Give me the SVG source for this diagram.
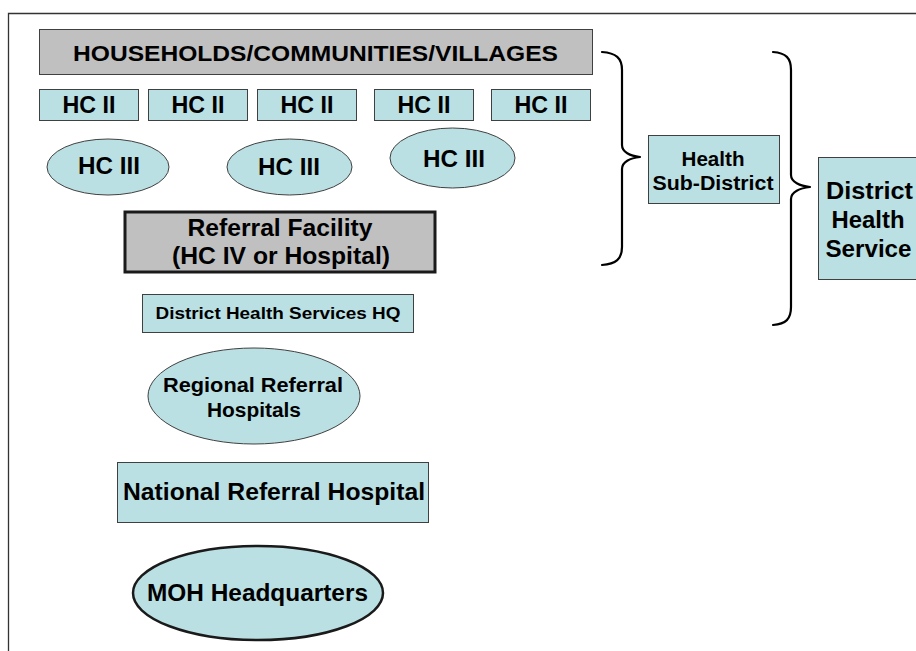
<svg xmlns="http://www.w3.org/2000/svg" width="916" height="651" viewBox="0 0 916 651">
<style>
.t{font-family:"Liberation Sans",Arial,sans-serif;font-weight:bold;fill:#000;text-anchor:middle}
.blue{fill:#BBE0E3;stroke:#404040;stroke-width:1}
.gray{fill:#C0C0C0;stroke:#404040;stroke-width:1}
.brace{fill:none;stroke:#000;stroke-width:2.2;stroke-linecap:round;stroke-linejoin:round}
</style>
<rect width="916" height="651" fill="#fff"/>
<path d="M8.5 651V13.5H916" fill="none" stroke="#333" stroke-width="1.3"/>

<g id="households">
<rect class="gray" x="39.5" y="29.5" width="553" height="45"/>
<text class="t" x="315.5" y="60.5" font-size="22.5" textLength="485" lengthAdjust="spacingAndGlyphs">HOUSEHOLDS/COMMUNITIES/VILLAGES</text>
</g>

<g id="hc2-1"><rect class="blue" x="39.5" y="89.5" width="99" height="31"/><text class="t" x="89" y="113" font-size="23" textLength="53" lengthAdjust="spacingAndGlyphs">HC II</text></g>
<g id="hc2-2"><rect class="blue" x="148.5" y="89.5" width="99" height="31"/><text class="t" x="198" y="113" font-size="23" textLength="53" lengthAdjust="spacingAndGlyphs">HC II</text></g>
<g id="hc2-3"><rect class="blue" x="257.5" y="89.5" width="99" height="31"/><text class="t" x="307" y="113" font-size="23" textLength="53" lengthAdjust="spacingAndGlyphs">HC II</text></g>
<g id="hc2-4"><rect class="blue" x="374.5" y="89.5" width="99" height="31"/><text class="t" x="424" y="113" font-size="23" textLength="53" lengthAdjust="spacingAndGlyphs">HC II</text></g>
<g id="hc2-5"><rect class="blue" x="491.5" y="89.5" width="99" height="31"/><text class="t" x="541" y="113" font-size="23" textLength="53" lengthAdjust="spacingAndGlyphs">HC II</text></g>

<g id="hc3-1"><ellipse class="blue" cx="108" cy="167" rx="61" ry="28"/><text class="t" x="109" y="174" font-size="23.5" textLength="62" lengthAdjust="spacingAndGlyphs">HC III</text></g>
<g id="hc3-2"><ellipse class="blue" cx="289.5" cy="167" rx="62.5" ry="28"/><text class="t" x="289" y="175" font-size="23.5" textLength="62" lengthAdjust="spacingAndGlyphs">HC III</text></g>
<g id="hc3-3"><ellipse class="blue" cx="452.5" cy="158" rx="62.5" ry="30"/><text class="t" x="454" y="167" font-size="23.5" textLength="62" lengthAdjust="spacingAndGlyphs">HC III</text></g>

<g id="referral-facility">
<rect x="125" y="212" width="310" height="60" fill="#C0C0C0" stroke="#1a1a1a" stroke-width="3"/>
<text class="t" x="280" y="236" font-size="24" textLength="185" lengthAdjust="spacingAndGlyphs">Referral Facility</text>
<text class="t" x="281" y="264" font-size="24" textLength="218" lengthAdjust="spacingAndGlyphs">(HC IV or Hospital)</text>
</g>

<g id="dhs-hq">
<rect class="blue" x="142.5" y="294.5" width="271" height="38"/>
<text class="t" x="278" y="319" font-size="16.5" textLength="245" lengthAdjust="spacingAndGlyphs">District Health Services HQ</text>
</g>

<g id="regional">
<ellipse class="blue" cx="254" cy="396" rx="106" ry="48"/>
<text class="t" x="253" y="392" font-size="19.5" textLength="180" lengthAdjust="spacingAndGlyphs">Regional Referral</text>
<text class="t" x="254" y="417" font-size="19.5" textLength="94" lengthAdjust="spacingAndGlyphs">Hospitals</text>
</g>

<g id="national">
<rect class="blue" x="117.5" y="462.5" width="311" height="60"/>
<text class="t" x="274" y="500" font-size="24" textLength="302" lengthAdjust="spacingAndGlyphs">National Referral Hospital</text>
</g>

<g id="moh">
<ellipse cx="258" cy="593" rx="125" ry="47" fill="#BBE0E3" stroke="#1a1a1a" stroke-width="2.5"/>
<text class="t" x="257.5" y="601" font-size="24" textLength="221" lengthAdjust="spacingAndGlyphs">MOH Headquarters</text>
</g>

<g id="health-sub-district">
<rect class="blue" x="648.5" y="135.5" width="131" height="68"/>
<text class="t" x="713" y="166" font-size="19.5" textLength="63" lengthAdjust="spacingAndGlyphs">Health</text>
<text class="t" x="713" y="190" font-size="19.5" textLength="121" lengthAdjust="spacingAndGlyphs">Sub-District</text>
</g>

<g id="district-health-service">
<rect class="blue" x="818.5" y="157.5" width="100" height="122"/>
<text class="t" x="869.5" y="199" font-size="23" textLength="87" lengthAdjust="spacingAndGlyphs">District</text>
<text class="t" x="868" y="228" font-size="23" textLength="73" lengthAdjust="spacingAndGlyphs">Health</text>
<text class="t" x="868.5" y="257" font-size="23" textLength="86" lengthAdjust="spacingAndGlyphs">Service</text>
</g>

<g id="connectors">
<path class="brace" d="M602 52C616 53 622 58 622 70V145C622 152 630 156 640 157C630 158 622 162 622 169V247C622 259 616 264 602 265"/>
<path class="brace" d="M773 52C786 53 791 58 791 70V175C791 182 800 186 810 187C800 188 791 192 791 199V307C791 319 786 324 773 325"/>
</g>
</svg>
